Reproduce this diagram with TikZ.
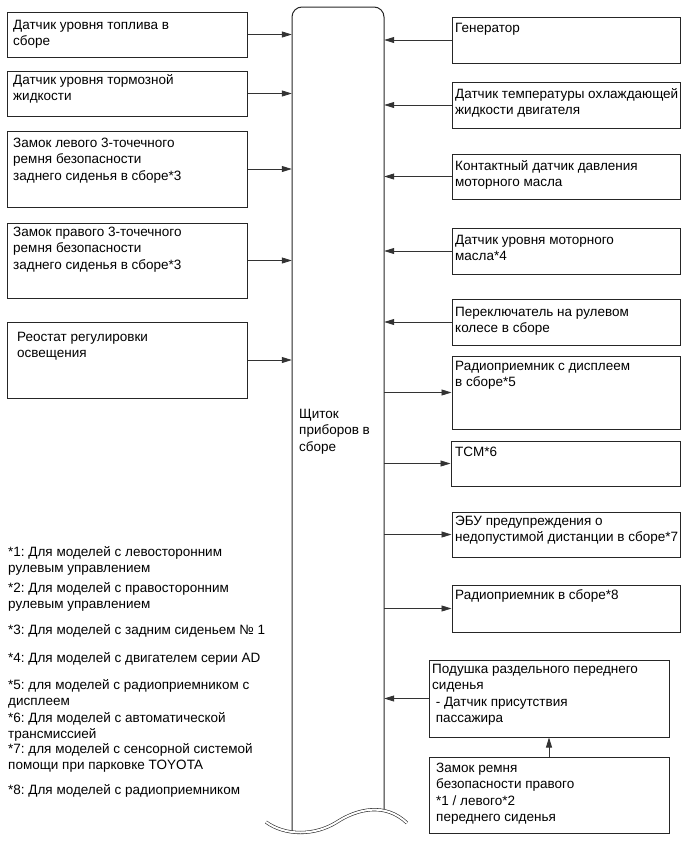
\documentclass[tikz,border=0pt]{standalone}
\usepackage{fontspec}
\setmainfont{Liberation Sans}
\frenchspacing
\usetikzlibrary{arrows.meta,fit}
\tikzset{
  box/.style={draw=black!85, line width=1pt, inner sep=0pt},
  txt/.style={anchor=north west, inner sep=0pt, align=left, font=\fontsize{13.5}{16.5}\selectfont},
  arr/.style={draw=black!80, line width=0.8pt, -{Triangle[length=10pt,width=6pt]}},
}
\newcommand\mybox[5]{\node[box, fit={(#2,#3)(#4,#5)}] (#1) {};}
\begin{document}
\begin{tikzpicture}[x=1pt,y=-1pt]
\useasboundingbox (0,0) rectangle (686,857);
% column
\node[inner sep=0pt, fit={(292,7)(384,831)}] (col) {};
\draw[black!85, line width=1pt, rounded corners=10pt] (292,831) -- (292,7) -- (384,7) -- (384,810);
\draw[black!85, line width=0.6pt, double, double distance=2pt]
  (266,822) .. controls (285,836) and (315,836) .. (337,822)
            .. controls (357,809) and (385,802) .. (407,823);
\node[txt] (colt) at (299,406.5) {\strut Щиток\\приборов в\\сборе};
% left boxes
\mybox{b1}{7}{12}{247}{57}
\mybox{b2}{7}{71}{247}{116}
\mybox{b3}{7}{131}{247}{207}
\mybox{b4}{7}{223}{247}{298}
\mybox{b5}{7}{322}{247}{398}
\node[txt] (b1t) at (13,17.5) {\strut Датчик уровня топлива в\\сборе};
\node[txt] (b2t) at (13,72.5) {\strut Датчик уровня тормозной\\жидкости};
\node[txt] (b3t) at (13,135.5) {\strut Замок левого 3-точечного\\ремня безопасности\\заднего сиденья в сборе*3};
\node[txt] (b4t) at (13,224.5) {\strut Замок правого 3-точечного\\ремня безопасности\\заднего сиденья в сборе*3};
\node[txt] (b5t) at (17,329.5) {\strut Реостат регулировки\\освещения};
% right boxes
\mybox{r1}{452}{17}{680}{63}
\mybox{r2}{452}{82}{680}{128}
\mybox{r3}{452}{154}{680}{199}
\mybox{r4}{452}{228}{680}{274}
\mybox{r5}{452}{299}{680}{345}
\mybox{r6}{452}{356}{680}{429}
\mybox{r7}{451}{441}{680}{486}
\mybox{r8}{452}{512}{680}{557}
\mybox{r9}{452}{585}{680}{632}
\mybox{r10}{429}{660}{669}{737}
\mybox{r11}{429}{757}{669}{833}
\node[txt] (r1t) at (455,20.5) {\strut Генератор};
\node[txt] (r2t) at (455,86.5) {\strut Датчик температуры охлаждающей\\жидкости двигателя};
\node[txt] (r3t) at (455,158.5) {\strut Контактный датчик давления\\моторного масла};
\node[txt] (r4t) at (455,232.5) {\strut Датчик уровня моторного\\масла*4};
\node[txt] (r5t) at (455,304.5) {\strut Переключатель на рулевом\\колесе в сборе};
\node[txt] (r6t) at (455,358.5) {\strut Радиоприемник с дисплеем\\в сборе*5};
\node[txt] (r7t) at (455,444.5) {\strut TCM*6};
\node[txt] (r8t) at (455,513.5) {\strut ЭБУ предупреждения о\\недопустимой дистанции в сборе*7};
\node[txt] (r9t) at (455,587.5) {\strut Радиоприемник в сборе*8};
\node[txt] (r10t) at (432,661.5) {\strut Подушка раздельного переднего\\сиденья\\\hspace*{3.6pt}- Датчик присутствия\\\hspace*{3.6pt}пассажира};
\node[txt] (r11t) at (436,760.5) {\strut Замок ремня\\безопасности правого\\*1 / левого*2\\переднего сиденья};
% notes
\node[txt] (n1) at (8,544.5) {\strut *1: Для моделей с левосторонним\\рулевым управлением};
\node[txt] (n2) at (8,580.5) {\strut *2: Для моделей с правосторонним\\рулевым управлением};
\node[txt] (n3) at (8,622.5) {\strut *3: Для моделей с задним сиденьем № 1};
\node[txt] (n4) at (8,650.5) {\strut *4: Для моделей с двигателем серии AD};
\node[txt] (n5) at (8,677.5) {\strut *5: для моделей с радиоприемником с\\дисплеем};
\node[txt] (n6) at (8,710.5) {\strut *6: Для моделей с автоматической\\трансмиссией};
\node[txt] (n7) at (8,741.5) {\strut *7: для моделей с сенсорной системой\\помощи при парковке TOYOTA};
\node[txt] (n8) at (8,782.5) {\strut *8: Для моделей с радиоприемником};
% connectors
\foreach \b in {b1,b2,b3,b4,b5} \draw[arr] (\b.east) -- (\b.east -| col.west);
\foreach \r in {r1,r2,r3,r4,r5,r10} \draw[arr] (\r.west) -- (\r.west -| col.east);
\foreach \r in {r6,r7,r8,r9} \draw[arr] (\r.west -| col.east) -- (\r.west);
\draw[arr] (r11.north) -- (r10.south);
\end{tikzpicture}
\end{document}
